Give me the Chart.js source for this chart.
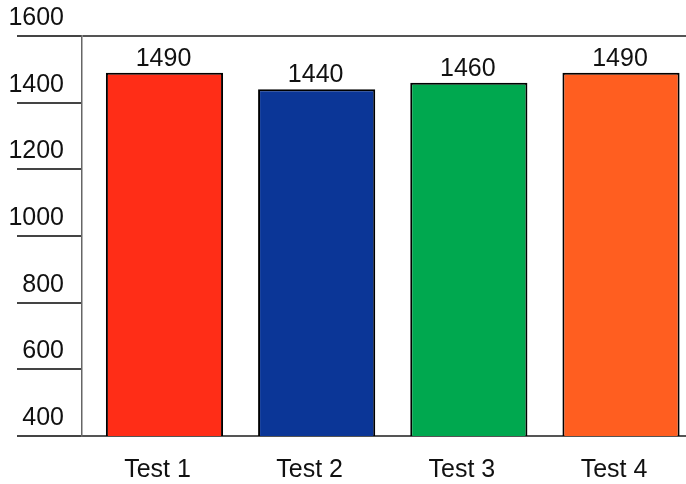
<!DOCTYPE html>
<html>
<head>
<meta charset="utf-8">
<script src="https://cdn.jsdelivr.net/npm/chart.js@4.4.0/dist/chart.umd.min.js"></script>
<style>
  html, body { margin: 0; padding: 0; background: #fff; }
</style>
</head>
<body>
<canvas id="chart_Tests" width="686" height="484"></canvas>
<script>
var categories = ["Test 1", "Test 2", "Test 3", "Test 4"];
var scores = [1490, 1440, 1460, 1490];
var barColors = ["#ff2d17", "#0b3697", "#00a84f", "#ff5e20"];
var yTicks = [400, 600, 800, 1000, 1200, 1400, 1600];

var fontFamily = '"Liberation Sans", Arial, Helvetica, sans-serif';

// numbers above each bar
var valueLabels = {
  id: 'valueLabels',
  afterDatasetsDraw: function (chart) {
    var ctx = chart.ctx;
    var meta = chart.getDatasetMeta(0);
    ctx.save();
    ctx.font = '25px ' + fontFamily;
    ctx.fillStyle = '#111';
    ctx.textAlign = 'center';
    ctx.textBaseline = 'alphabetic';
    meta.data.forEach(function (bar, i) {
      ctx.fillText(String(scores[i]), bar.x - 1, bar.y - 7);
    });
    ctx.restore();
  }
};

new Chart(document.getElementById("chart_Tests"), {
  type: 'bar',
  data: {
    datasets: [{
      data: scores.map(function (v, i) { return { x: i + 1, y: v }; }),
      backgroundColor: barColors,
      borderColor: '#000',
      borderWidth: 2,
      categoryPercentage: 1,
      barPercentage: 0.77
    }]
  },
  options: {
    responsive: false,
    animation: false,
    devicePixelRatio: 1,
    layout: { padding: { top: 36, left: 0, right: 0, bottom: 0 } },
    plugins: { legend: { display: false }, tooltip: { enabled: false } },
    scales: {
      x: {
        type: 'linear',
        offset: false,
        min: 0.458,
        max: 4.427,
        grid: { display: false, drawTicks: false },
        border: { display: true, color: '#555', width: 2 },
        afterBuildTicks: function (axis) {
          axis.ticks = categories.map(function (c, i) { return { value: i + 1 }; });
        },
        ticks: {
          callback: function (v) { return categories[v - 1]; },
          font: { size: 25, family: fontFamily },
          color: '#111',
          padding: 19,
          labelOffset: -7,
          maxRotation: 0,
          autoSkip: false
        },
        afterFit: function (axis) { axis.height = 48; }
      },
      y: {
        min: 400,
        max: 1600,
        afterBuildTicks: function (axis) {
          axis.ticks = yTicks.map(function (v) { return { value: v }; });
        },
        grid: {
          color: function (c) { return c.tick && c.tick.value === 1600 ? '#555' : 'rgba(0,0,0,0)'; },
          tickColor: '#444',
          tickLength: 65,
          lineWidth: 2,
          tickWidth: 2
        },
        border: { display: true, color: '#666', width: 1.5 },
        ticks: {
          callback: function (v) { return String(v); },
          font: { size: 25, family: fontFamily },
          color: '#111',
          padding: -47,
          labelOffset: -18
        },
        afterFit: function (axis) { axis.width = 82; }
      }
    }
  },
  plugins: [valueLabels]
});
</script>
</body>
</html>
